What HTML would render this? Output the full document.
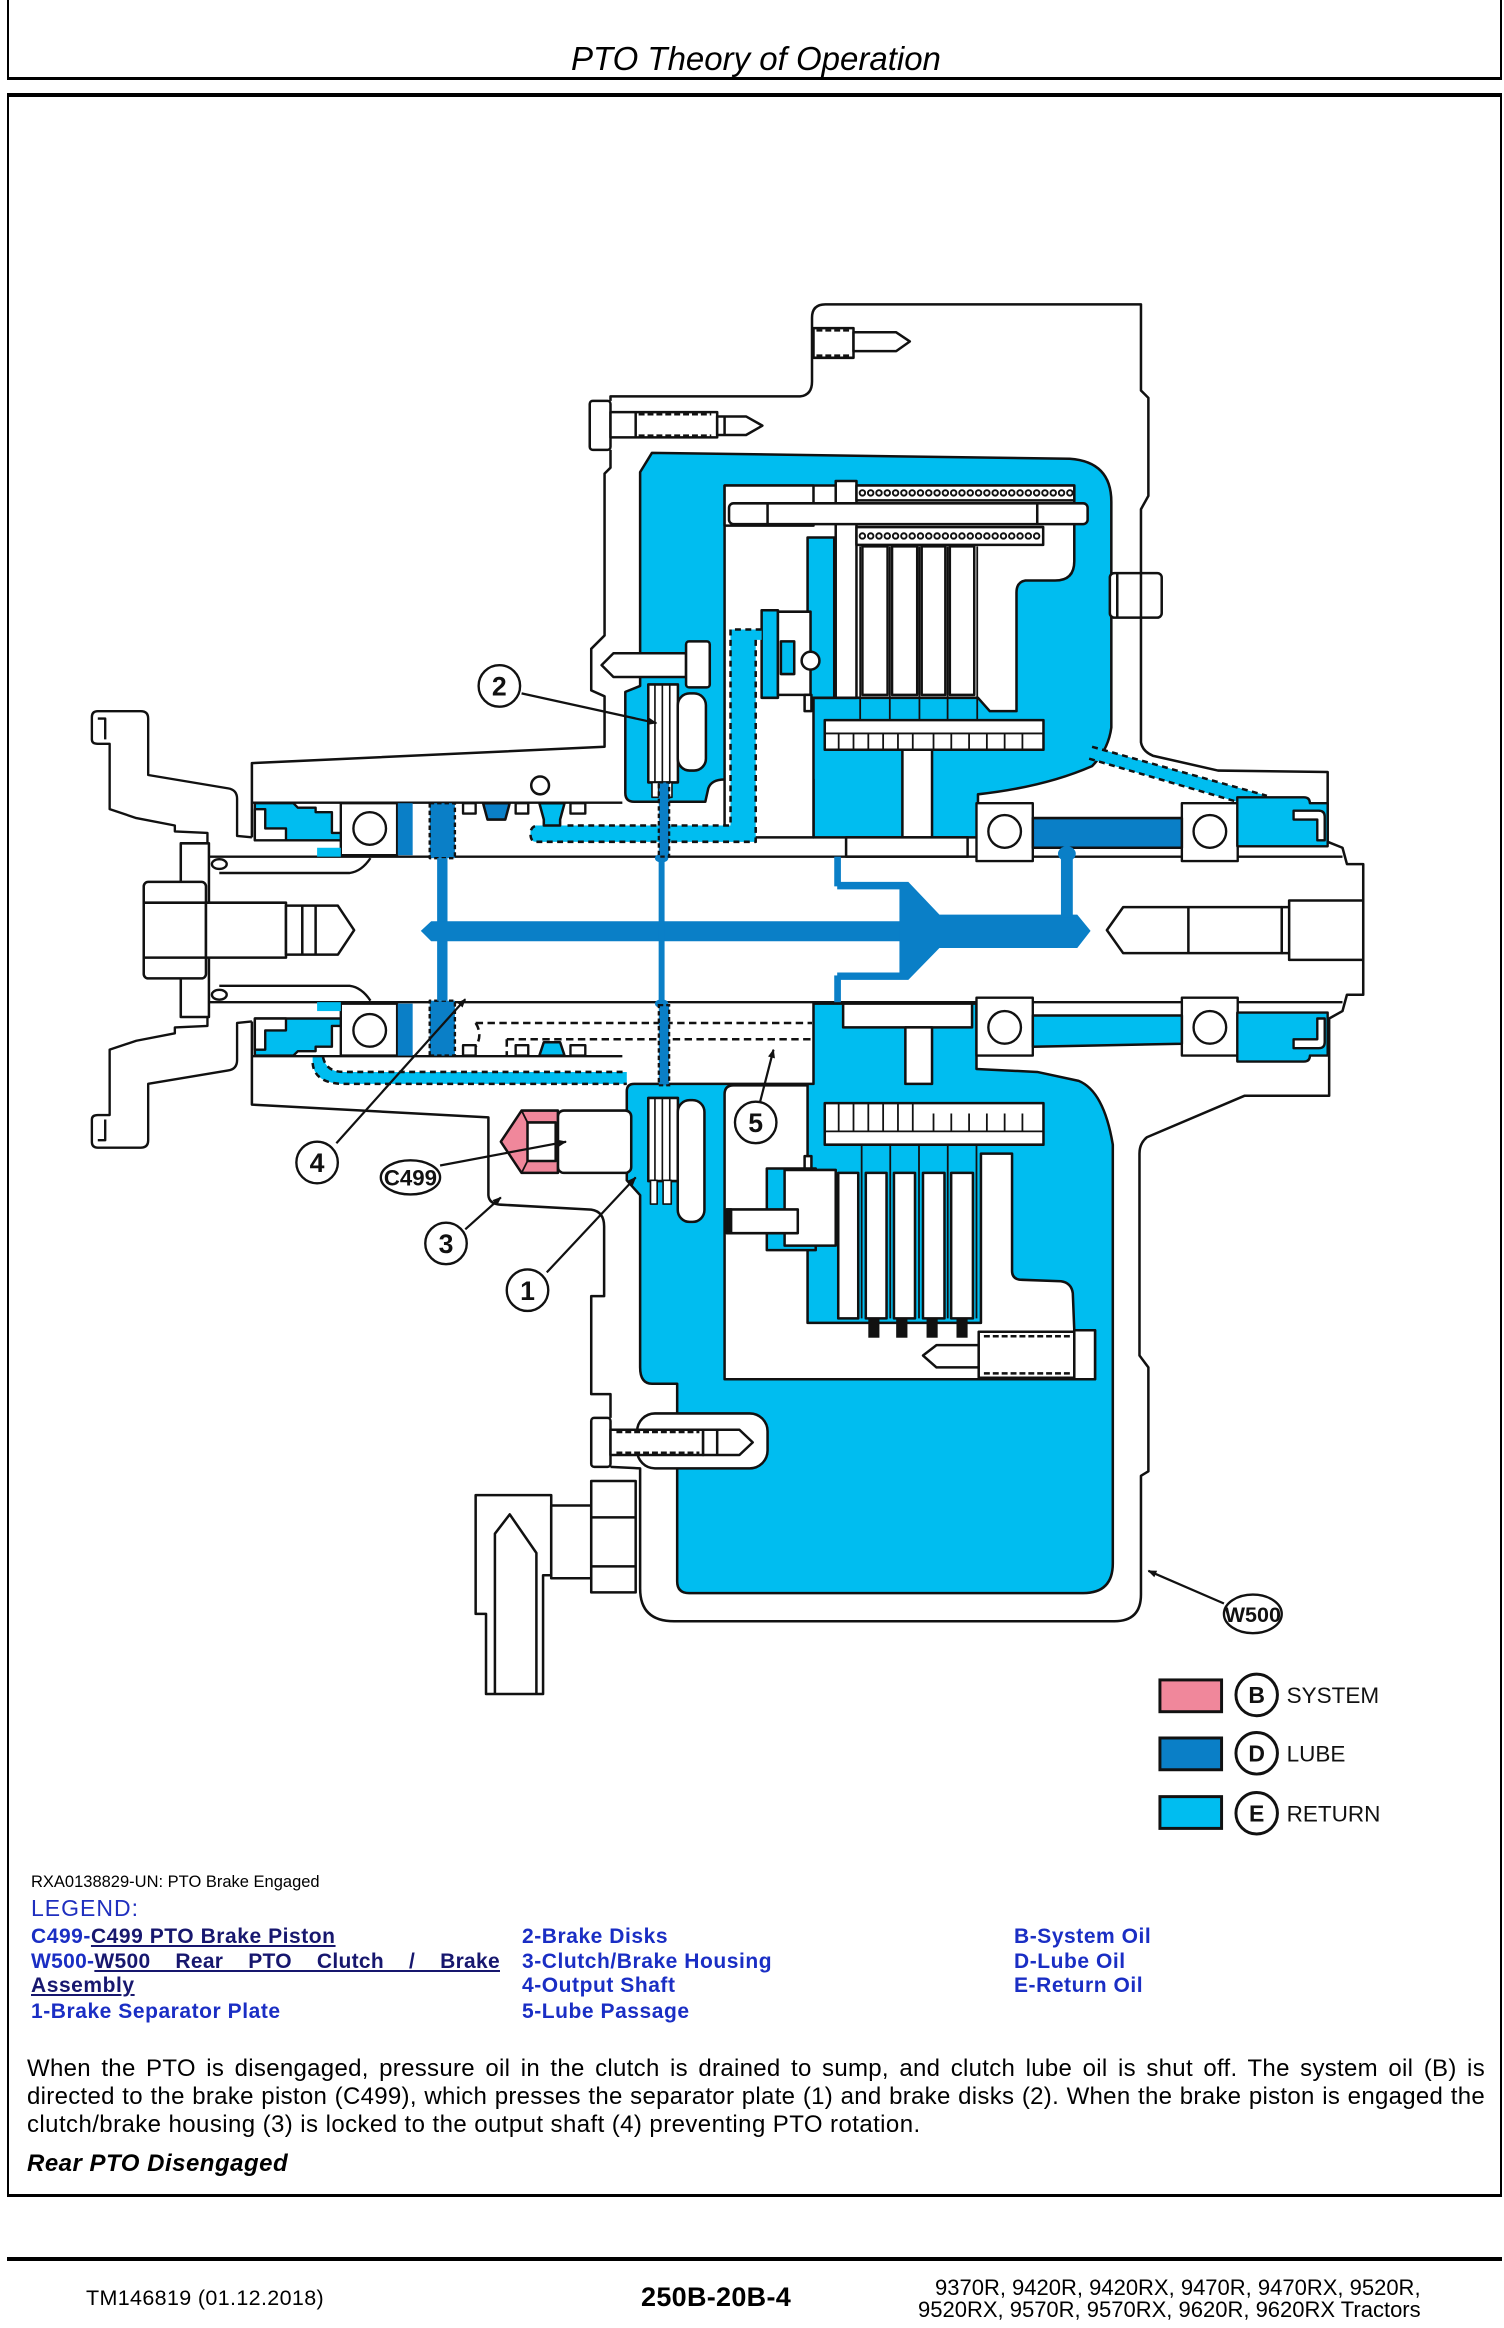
<!DOCTYPE html>
<html><head><meta charset="utf-8"><title>PTO Theory of Operation</title>
<style>
html,body{margin:0;padding:0;background:#fff}
body{width:1504px;height:2328px;position:relative;overflow:hidden;font-family:"Liberation Sans",Arial,sans-serif;color:#000}
.a{position:absolute;white-space:nowrap}
.bar{position:absolute;background:#000}
.lg{position:absolute;white-space:nowrap;font-weight:bold;font-size:21px;line-height:21px;letter-spacing:0.55px;color:#1a2ec4}
.lg u{color:#17176e;text-decoration:underline;text-decoration-thickness:2px;text-underline-offset:2px}
.p{position:absolute;left:27px;width:1455px;font-size:24px;line-height:24px;letter-spacing:0.42px;white-space:nowrap}
.j{text-align:justify;text-align-last:justify;white-space:normal;letter-spacing:0.3px;width:1458px}
svg{position:absolute;left:0;top:0}
</style></head>
<body>

<!-- header frame -->
<div class="bar" style="left:7px;top:0;width:2px;height:80px"></div>
<div class="bar" style="left:1500px;top:0;width:2px;height:80px"></div>
<div class="bar" style="left:7px;top:77px;width:1495px;height:3px"></div>
<div class="a" style="left:571px;top:42px;font-size:33px;line-height:33px;font-style:italic">PTO Theory of Operation</div>

<!-- main frame -->
<div class="bar" style="left:7px;top:93px;width:1495px;height:3.5px"></div>
<div class="bar" style="left:7px;top:93px;width:2px;height:2104px"></div>
<div class="bar" style="left:1500px;top:93px;width:2px;height:2104px"></div>
<div class="bar" style="left:7px;top:2194px;width:1495px;height:3px"></div>

<!-- footer -->
<div class="bar" style="left:7px;top:2257px;width:1495px;height:4px"></div>
<div class="a" style="left:86px;top:2288px;font-size:21.5px;line-height:21.5px;letter-spacing:0.35px">TM146819 (01.12.2018)</div>
<div class="a" style="left:641px;top:2284px;font-size:27px;line-height:27px;font-weight:bold;letter-spacing:0.3px">250B-20B-4</div>
<div class="a" style="left:935px;top:2277px;font-size:22px;line-height:22px">9370R, 9420R, 9420RX, 9470R, 9470RX, 9520R,</div>
<div class="a" style="left:918px;top:2299px;font-size:22px;line-height:22px">9520RX, 9570R, 9570RX, 9620R, 9620RX Tractors</div>

<!-- caption + legend -->
<div class="a" style="left:31px;top:1874px;font-size:16.5px;line-height:16.5px">RXA0138829-UN: PTO Brake Engaged</div>
<div class="a" style="left:31px;top:1897px;font-size:23px;line-height:23px;letter-spacing:1px;color:#1f2fbf">LEGEND:</div>

<div class="lg" style="left:31px;top:1926px">C499-<u>C499 PTO Brake Piston</u></div>
<div class="lg" style="left:31px;top:1951px;width:469px;text-align:justify;text-align-last:justify;white-space:normal;letter-spacing:0.3px">W500-<u>W500 Rear PTO Clutch / Brake</u></div>
<div class="lg" style="left:31px;top:1975px"><u>Assembly</u></div>
<div class="lg" style="left:31px;top:2001px">1-Brake Separator Plate</div>

<div class="lg" style="left:522px;top:1926px">2-Brake Disks</div>
<div class="lg" style="left:522px;top:1951px">3-Clutch/Brake Housing</div>
<div class="lg" style="left:522px;top:1975px">4-Output Shaft</div>
<div class="lg" style="left:522px;top:2001px">5-Lube Passage</div>

<div class="lg" style="left:1014px;top:1926px">B-System Oil</div>
<div class="lg" style="left:1014px;top:1951px">D-Lube Oil</div>
<div class="lg" style="left:1014px;top:1975px">E-Return Oil</div>

<!-- paragraph -->
<div class="p j" style="top:2057px">When the PTO is disengaged, pressure oil in the clutch is drained to sump, and clutch lube oil is shut off. The system oil (B) is</div>
<div class="p j" style="top:2085px">directed to the brake piston (C499), which presses the separator plate (1) and brake disks (2). When the brake piston is engaged the</div>
<div class="p" style="top:2113px">clutch/brake housing (3) is locked to the output shaft (4) preventing PTO rotation.</div>
<div class="a" style="left:27px;top:2152px;font-size:24px;line-height:24px;font-weight:bold;font-style:italic;letter-spacing:0.5px">Rear PTO Disengaged</div>

<!-- DIAGRAM -->
<svg width="1504" height="2328" viewBox="0 0 1015 1568" preserveAspectRatio="none" xmlns="http://www.w3.org/2000/svg">
<defs>
<marker id="ah" viewBox="0 0 10 10" refX="9" refY="5" markerWidth="8" markerHeight="6" orient="auto" markerUnits="userSpaceOnUse">
<path d="M0,1 L10,5 L0,9 Z" fill="#111"/></marker>
<g id="half" stroke="#111" stroke-width="1.6" stroke-linejoin="round">
 <path fill="none" d="M170,564 L160,563 L160,538 Q160,532 154,531 L100,522 L100,484 Q100,479 95,479 L66,479 Q62,479 62,483 L62,498 Q62,501 66,501 L74,501 L74,545 L92,551 L118,556 L118,560 L140,561 L140,568"/>
 <path fill="none" d="M66,484 L71,484 L71,498"/>
 <path fill="none" d="M140,577 L906,577"/>
 <path fill="none" d="M148,588 L236,588 Q244,587 250,578"/>
 <ellipse cx="148" cy="582" rx="5" ry="3.3" fill="#fff"/>
 <path fill="none" d="M170,540.6 L420,540.6"/>
 <rect x="230" y="541" width="38" height="35" fill="#fff"/>
 <circle cx="249.5" cy="558" r="11" fill="#fff"/>
 <path fill="#00bdf0" d="M172,541 L198,541 L201,544 L213,544 L213,547 L224,547 L224,561 L230,561 L230,566 L172,566 Z"/>
 <path fill="#fff" d="M172,545 L179,545 L179,558 L193,558 L193,566 L172,566 Z"/>
 <rect x="214" y="571" width="16" height="6" fill="#00bdf0" stroke="none"/>
 <rect x="268.5" y="541" width="10" height="35" fill="#0a7fc7" stroke="none"/>
 <rect x="290" y="541" width="17" height="37" fill="#0a7fc7" stroke-dasharray="3 2"/>
 <rect x="295" y="578" width="7" height="43" fill="#0a7fc7" stroke="none"/>
 <rect x="312.5" y="541" width="8.5" height="7" fill="#fff"/>
 <rect x="348" y="541" width="8.5" height="7" fill="#fff"/>
 <rect x="385" y="541" width="10" height="7" fill="#fff"/>
 <rect x="659" y="541" width="38" height="39" fill="#fff"/>
 <circle cx="678" cy="560" r="11" fill="#fff"/>
 <rect x="797.6" y="541" width="37.7" height="39" fill="#fff"/>
 <circle cx="816.5" cy="560" r="11" fill="#fff"/>
 <path fill="#00bdf0" d="M835,537 L880,537 Q884,537 884,541 L896,541 L896,570 L835,570 Z"/>
 <path fill="#fff" d="M873,546 L890,546 Q894,546 894,550 L894,566 L889,566 L889,552 L873,552 Z"/>
</g>
</defs>

<g stroke="#111" stroke-width="1.7" stroke-linejoin="round">
<!-- upper return region -->
<path fill="#00bdf0" d="M432,318 L440,305 L722,309 Q750,311 750,338 L750,490 Q748,505 737,516 Q705,530 660,535 L660,564 L549,564 L549,525 L489,525 Q480,525 478,531 L476,540 L428,540 Q422,540 422,534 L422,466 L432,462 Z"/>
<!-- lower return region -->
<path fill="#00bdf0" d="M549,676 L659,676 L659,720 L700,722 L728,728 Q745,735 751,771 L751,1053 Q751,1073 731,1073 L465,1073 Q457,1073 457,1065 L457,932 L440,932 Q432,932 432,921 L432,805 L423,795 L423,735 Q423,730 428,730 L549,730 Z"/>

<!-- upper interior white -->
<path fill="#fff" d="M489,327 L725,327 L725,378 Q725,391 712,391 L692,391 Q686,392 686,399 L686,479 L668,479 L660,470 L549,470 L549,564 L489,564 Z"/>
<!-- lower interior white -->
<path fill="#fff" d="M495,731 L545,731 L545,891 L662,891 L662,777 L683,777 L683,856 Q683,862 690,862 L716,863 Q723,864 724,871 L725,896 L739,896 L739,929 L489,929 L489,737 Q489,731 495,731 Z"/>

<!-- upper clutch details -->
<rect x="545" y="362" width="18" height="108" fill="#00bdf0"/>
<rect x="514" y="411" width="11" height="59" fill="#00bdf0"/>
<rect x="525" y="412" width="22" height="56" fill="#fff"/>
<rect x="527" y="432" width="9" height="22" fill="#00bdf0"/>
<circle cx="547" cy="445" r="6" fill="#fff"/>
<rect x="543" y="468" width="4.6" height="11" fill="#fff"/>
<rect x="564" y="324" width="14" height="146" fill="#fff"/>
<rect x="489" y="327" width="60" height="27" fill="#fff"/>
<rect x="578" y="327" width="147" height="10" fill="#fff"/>
<rect x="578" y="355" width="126" height="12" fill="#fff"/>
<rect x="492" y="339" width="242" height="14" rx="3" fill="#fff"/>
<path fill="none" d="M518,339 L518,353 M700,339 L700,353"/>
<path fill="none" stroke="#111" stroke-width="5" stroke-dasharray="0 5.6" stroke-linecap="round" d="M582,332 L722,332 M582,361 L702,361"/>
<path fill="none" stroke="#fff" stroke-width="2.4" stroke-dasharray="0 5.6" stroke-linecap="round" d="M582,332 L722,332 M582,361 L702,361"/>
<rect x="582" y="368" width="17" height="100" fill="#fff"/>
<rect x="602" y="368" width="17" height="100" fill="#fff"/>
<rect x="622" y="368" width="16" height="100" fill="#fff"/>
<rect x="641" y="368" width="16.5" height="100" fill="#fff"/>
<path fill="none" stroke-width="1.2" d="M580.5,368 L580.5,490 M600.5,368 L600.5,490 M620.5,368 L620.5,490 M639.5,368 L639.5,490 M659.5,368 L659.5,490"/>
<rect x="556.6" y="485" width="147.6" height="20" fill="#fff"/>
<path fill="none" stroke-width="1.2" d="M556.6,494 L704,494 M566,494 L566,505 M576,494 L576,505 M586,494 L586,505 M596,494 L596,505 M606,494 L606,505 M616,494 L616,505 M630,494 L630,505 M642,494 L642,505 M654,494 L654,505 M666,494 L666,505 M678,494 L678,505 M690,494 L690,505"/>
<rect x="609" y="505" width="20" height="59" fill="#fff"/>
<rect x="571" y="564" width="82" height="13" fill="#fff"/>
<rect x="749" y="386" width="35" height="30" rx="3" fill="#fff"/>
<path fill="none" d="M754,386 L754,416"/>

<!-- lower clutch details -->
<rect x="569" y="676" width="87" height="16" fill="#fff"/>
<rect x="611" y="692" width="18" height="38" fill="#fff"/>
<rect x="556.6" y="743" width="147.6" height="28" fill="#fff"/>
<path fill="none" stroke-width="1.2" d="M556.6,762 L704,762 M566,743 L566,762 M576,743 L576,762 M586,743 L586,762 M596,743 L596,762 M606,743 L606,762 M616,743 L616,762 M630,750 L630,762 M642,750 L642,762 M654,750 L654,762 M666,750 L666,762 M678,750 L678,762 M690,750 L690,762"/>
<rect x="565.7" y="790" width="13.5" height="98" fill="#fff"/>
<rect x="584.3" y="790" width="14" height="98" fill="#fff"/>
<rect x="603.3" y="790" width="14.2" height="98" fill="#fff"/>
<rect x="622.9" y="790" width="14.5" height="98" fill="#fff"/>
<rect x="641.9" y="790" width="14.7" height="98" fill="#fff"/>
<path fill="none" stroke-width="1.2" d="M581.5,771 L581.5,888 M600.8,771 L600.8,888 M620.2,771 L620.2,888 M639.6,771 L639.6,888 M659,771 L659,888"/>
<g fill="#111" stroke="none">
<rect x="586" y="888" width="7.5" height="13"/><rect x="604.8" y="888" width="7.6" height="13"/>
<rect x="625.3" y="888" width="7.5" height="13"/><rect x="645.5" y="888" width="7.5" height="13"/>
</g>
<rect x="517.5" y="787" width="33" height="55" fill="#00bdf0"/>
<rect x="529.5" y="788" width="34.5" height="51" fill="#fff"/>
<rect x="490.4" y="814.6" width="48" height="16" fill="#fff"/>
<rect x="490.4" y="814.6" width="3" height="16" fill="#111"/>
<rect x="543" y="778.7" width="4.6" height="8.3" fill="#fff"/>
<path fill="#fff" d="M622.9,913 L632,906 L660.5,906 L660.5,921 L632,921 Z"/>
<rect x="660.5" y="897" width="64.5" height="31" fill="#fff"/>
<path fill="none" stroke-dasharray="4 2" d="M664,900 L722,900 M664,925 L722,925"/>
<rect x="725" y="896" width="14" height="33" fill="#fff"/>

<!-- upper brake -->
<rect x="437.5" y="461" width="20" height="66" fill="#fff"/>
<path fill="none" stroke-width="1.1" d="M442,461 L442,527 M447,461 L447,527 M452,461 L452,527"/>
<rect x="440" y="527" width="4.5" height="10" fill="#fff" stroke-width="1.1"/>
<rect x="449" y="527" width="4.5" height="10" fill="#fff" stroke-width="1.1"/>
<rect x="457.4" y="467" width="19" height="52" rx="8" fill="#fff"/>
<path fill="#fff" d="M406,448 L414,440 L463,440 L463,456 L414,456 Z"/>
<rect x="463" y="432" width="16" height="31" rx="2" fill="#fff"/>

<!-- lower brake -->
<rect x="437.5" y="739.5" width="20" height="56" fill="#fff"/>
<path fill="none" stroke-width="1.1" d="M442,739.5 L442,795 M447,739.5 L447,795 M452,739.5 L452,795"/>
<rect x="439" y="795" width="4.5" height="16" fill="#fff" stroke-width="1.1"/>
<rect x="447.5" y="795" width="5.5" height="16" fill="#fff" stroke-width="1.1"/>
<rect x="457.4" y="741" width="18" height="82" rx="8" fill="#fff"/>

<!-- lower bolt pocket + bolt -->
<rect x="430" y="952" width="88" height="37" rx="12" fill="#fff"/>
<rect x="399" y="955" width="13" height="33" rx="2" fill="#fff"/>
<rect x="412" y="963" width="62.5" height="17" fill="#fff"/>
<path fill="none" stroke-dasharray="4 2" d="M416,964.5 L472,964.5 M416,978.5 L472,978.5"/>
<path fill="#fff" d="M474.5,963 L499,963 L508,971.5 L499,980 L474.5,980 Z"/>
<path fill="none" d="M484,963 L484,980"/>

<!-- upper bolts -->
<rect x="398" y="270" width="14" height="33" rx="2" fill="#fff"/>
<rect x="412" y="277.6" width="72" height="17" fill="#fff"/>
<path fill="none" d="M429,277.6 L429,294.6"/>
<path fill="none" stroke-dasharray="4 2" d="M431,279 L480,279 M431,293.4 L480,293.4"/>
<path fill="#fff" d="M484,280.5 L503.5,280.5 L514.5,286.7 L503.5,293 L484,293 Z"/>
<path fill="none" d="M489,280.5 L489,293"/>
<rect x="549" y="221" width="27" height="20" fill="#fff"/>
<path fill="none" stroke-dasharray="4 2" d="M551,222.5 L574,222.5 M551,239.5 L574,239.5"/>
<path fill="#fff" d="M576,223.8 L604.8,223.8 L614,230 L604.8,236.5 L576,236.5 Z"/>

<!-- dashed return passages -->
<path fill="#00bdf0" stroke="none" d="M493,424 L514,424 L514,431 L510,431 L510,567 L362,567 Q358,567 358,563 L358,560 Q358,556 362,556 L493,556 Z"/>
<path fill="none" stroke-dasharray="4 3" d="M514,424 L493,424 L493,556 L381,556 M510,431 L510,567 L362,567 Q358,567 358,561.5 Q358,556 364,556"/>
<path fill="#00bdf0" d="M364,541 L381,541 L378,552 L378,556 L367,556 L367,552 Z"/>
<path fill="#0a7fc7" d="M326,541 L344,541 L341,552 L329,552 Z"/>
<path fill="#00bdf0" stroke="none" d="M211,712 L218,712 Q220,722 232,722 L423,722 L423,730 L230,730 Q212,729 211,716 Z"/>
<path fill="none" stroke-dasharray="4 3" d="M218,712 Q220,722 232,722 L423,722 M211,716 Q212,729 230,730 L423,730"/>
<path fill="#00bdf0" stroke="none" d="M737,503 L855,536 L852,545 L735,511 Z"/>
<path fill="none" stroke-dasharray="4 3" d="M737,503 L855,536 M735,511 L852,545"/>
<path fill="none" stroke-dasharray="5 3" d="M321,689 L548,689 M342,700 L548,700 M321,689 Q326,697 321,705 M342,700 L342,711"/>

<!-- housing outlines -->
<path fill="none" d="M170,564 L170,514 L408,503 L408,469 L399,465 L399,437 L408,428 L408,319 L412,315 L412,303"/>
<path fill="none" d="M412,270 L412,267 L540,267 Q548,266 548,257 L548,214 Q548,205 557,205 L770,205 L770,263 L775,268 L775,334 L770,343 L770,500 Q771,506 778,509 L822,519 L896,520 L896,567 L906,571 L909,582 L920,582 L920,670 L909,670 L906,681 L897,686 L897,738 L840,738 L774,766 Q769,770 769,777 L769,913 L775,921 L775,991 L770,994 L770,1074 Q770,1092 752,1092 L455,1092 Q432,1092 432,1070 L432,989 L412,988"/>
<path fill="none" d="M170,688 L170,744 L329.6,752.6 L329.6,805 Q330,811 338,811.4 L399,814.7 Q407.7,816 407.7,826 L407.7,873 L399,873 L399,939 L412,939 L412,955"/>
<circle cx="364.5" cy="529" r="6" fill="#fff"/>

<!-- symmetric halves -->
<use href="#half"/>
<use href="#half" transform="matrix(1 0 0 -1 0 1252)"/>

<!-- lube bands -->
<rect x="697" y="551" width="100.6" height="20" fill="#0a7fc7"/>
<path fill="#00bdf0" d="M697,684 L797.6,684 L797.6,703 L697,705 Z"/>
<path fill="#00bdf0" d="M364,711 L381,711 L378,702 L367,702 Z"/>

<!-- left nut / stub -->
<rect x="122" y="568" width="19" height="117" fill="#fff"/>
<rect x="97" y="594" width="42" height="65" rx="3" fill="#fff"/>
<path fill="none" d="M97,608 L139,608 M97,645 L139,645"/>
<rect x="139" y="608" width="54" height="37" fill="#fff"/>
<path fill="#fff" d="M193,610 L228,610 L239,626.5 L228,643 L193,643 Z"/>
<path fill="none" d="M204,610 L204,643 M213,610 L213,643"/>

<!-- right stub -->
<path fill="#fff" d="M758,611 L865,611 L865,642 L758,642 L747,626.5 Z"/>
<path fill="#fff" d="M870,606.5 L920,606.5 L920,646.5 L870,646.5 Z"/>
<path fill="none" d="M802,611 L802,642 M865,611 L870,611 M865,642 L870,642"/>
</g>

<!-- central lube channel -->
<g fill="#0a7fc7" stroke="none">
<path d="M284,627 L291,620.5 L610,620.5 L610,634 L291,634 Z"/>
<path d="M565,594 L613,594 L634,616 L727,616 L736,627 L727,638.5 L634,638.5 L613,660 L565,660 L565,655 L607,655 L607,599 L565,599 Z"/>
<rect x="563" y="577" width="4.5" height="20"/>
<rect x="563" y="657" width="4.5" height="18"/>
<rect x="444.5" y="577" width="4" height="100"/>
<rect x="716" y="571" width="8" height="47"/>
<ellipse cx="720" cy="575" rx="6" ry="5"/>
<ellipse cx="446.5" cy="578" rx="4.5" ry="3"/>
<ellipse cx="446.5" cy="676" rx="4.5" ry="3"/>
</g>
<g stroke="#111" stroke-width="1.5">
<rect x="444.6" y="527" width="7" height="50" fill="#0a7fc7" stroke-dasharray="3 2"/>
<rect x="444.6" y="677" width="7" height="54" fill="#0a7fc7" stroke-dasharray="3 2"/>
</g>

<!-- elbow fitting -->
<g stroke="#111" stroke-width="1.7" stroke-linejoin="round" fill="#fff">
<path d="M321,1007 L372,1007 L372,1061 L366.5,1061 L366.5,1141 L328,1141 L328,1087 L321,1087 Z"/>
<path fill="none" d="M334,1141 L334,1033 L344,1020 L362,1046 L362,1141"/>
<rect x="372" y="1014" width="27" height="49"/>
<rect x="399" y="997.5" width="30" height="75"/>
<path fill="none" d="M399,1022 L429,1022 M399,1055 L429,1055"/>
<!-- C499 piston -->
<rect x="376.5" y="748" width="49.5" height="42" rx="4"/>
<path fill="#f0879b" d="M338,769 L352,748 L376.5,748 L376.5,790 L352,790 Z"/>
<path d="M356,756 L375,756 L375,782 L356,782 Z"/>
<path fill="none" stroke-width="1.2" d="M352,748 L356,756 M352,790 L356,782"/>
</g>

<!-- callouts -->
<g stroke="#111" stroke-width="1.5" fill="none">
<line x1="352" y1="467" x2="443" y2="487" marker-end="url(#ah)"/>
<line x1="227" y1="770" x2="314" y2="673" marker-end="url(#ah)"/>
<line x1="297" y1="785" x2="382" y2="769" marker-end="url(#ah)"/>
<line x1="314" y1="828" x2="338" y2="806.5" marker-end="url(#ah)"/>
<line x1="369" y1="857" x2="429" y2="793" marker-end="url(#ah)"/>
<line x1="513" y1="742" x2="522" y2="707" marker-end="url(#ah)"/>
<line x1="826" y1="1080" x2="775" y2="1058" marker-end="url(#ah)"/>
</g>
<g stroke="#111" stroke-width="1.6" fill="#fff">
<circle cx="337" cy="462" r="14"/>
<circle cx="214" cy="783" r="14"/>
<ellipse cx="277" cy="793" rx="20" ry="11.5"/>
<circle cx="301" cy="837.5" r="14"/>
<circle cx="356" cy="869" r="14"/>
<circle cx="510" cy="756" r="14"/>
<ellipse cx="845.5" cy="1087" rx="19.5" ry="13"/>
</g>
<g font-family="Liberation Sans, Arial, sans-serif" font-weight="bold" fill="#111" text-anchor="middle">
<text x="337" y="468.5" font-size="18">2</text>
<text x="214" y="789.5" font-size="18">4</text>
<text x="277" y="798.5" font-size="15">C499</text>
<text x="301" y="844" font-size="18">3</text>
<text x="356" y="875.5" font-size="18">1</text>
<text x="510" y="762.5" font-size="18">5</text>
<text x="845.5" y="1092.5" font-size="14.5">W500</text>
</g>

<!-- colour legend -->
<g stroke="#111" stroke-width="2">
<rect x="782.8" y="1131.5" width="41.6" height="21.4" fill="#f0879b"/>
<rect x="782.8" y="1170.6" width="41.6" height="21.4" fill="#0a7fc7"/>
<rect x="782.8" y="1210.1" width="41.6" height="21.4" fill="#00bdf0"/>
<circle cx="848.1" cy="1141.6" r="14" fill="#fff"/>
<circle cx="848.1" cy="1180.9" r="14" fill="#fff"/>
<circle cx="848.1" cy="1221.3" r="14" fill="#fff"/>
</g>
<g font-family="Liberation Sans, Arial, sans-serif" fill="#111">
<text x="848.1" y="1147" font-size="15.5" font-weight="bold" text-anchor="middle">B</text>
<text x="848.1" y="1186.4" font-size="15.5" font-weight="bold" text-anchor="middle">D</text>
<text x="848.1" y="1226.8" font-size="15.5" font-weight="bold" text-anchor="middle">E</text>
<text x="868.3" y="1147.2" font-size="15.2">SYSTEM</text>
<text x="868.3" y="1186.6" font-size="15.2">LUBE</text>
<text x="868.3" y="1227" font-size="15.2">RETURN</text>
</g>
</svg>
</body></html>
